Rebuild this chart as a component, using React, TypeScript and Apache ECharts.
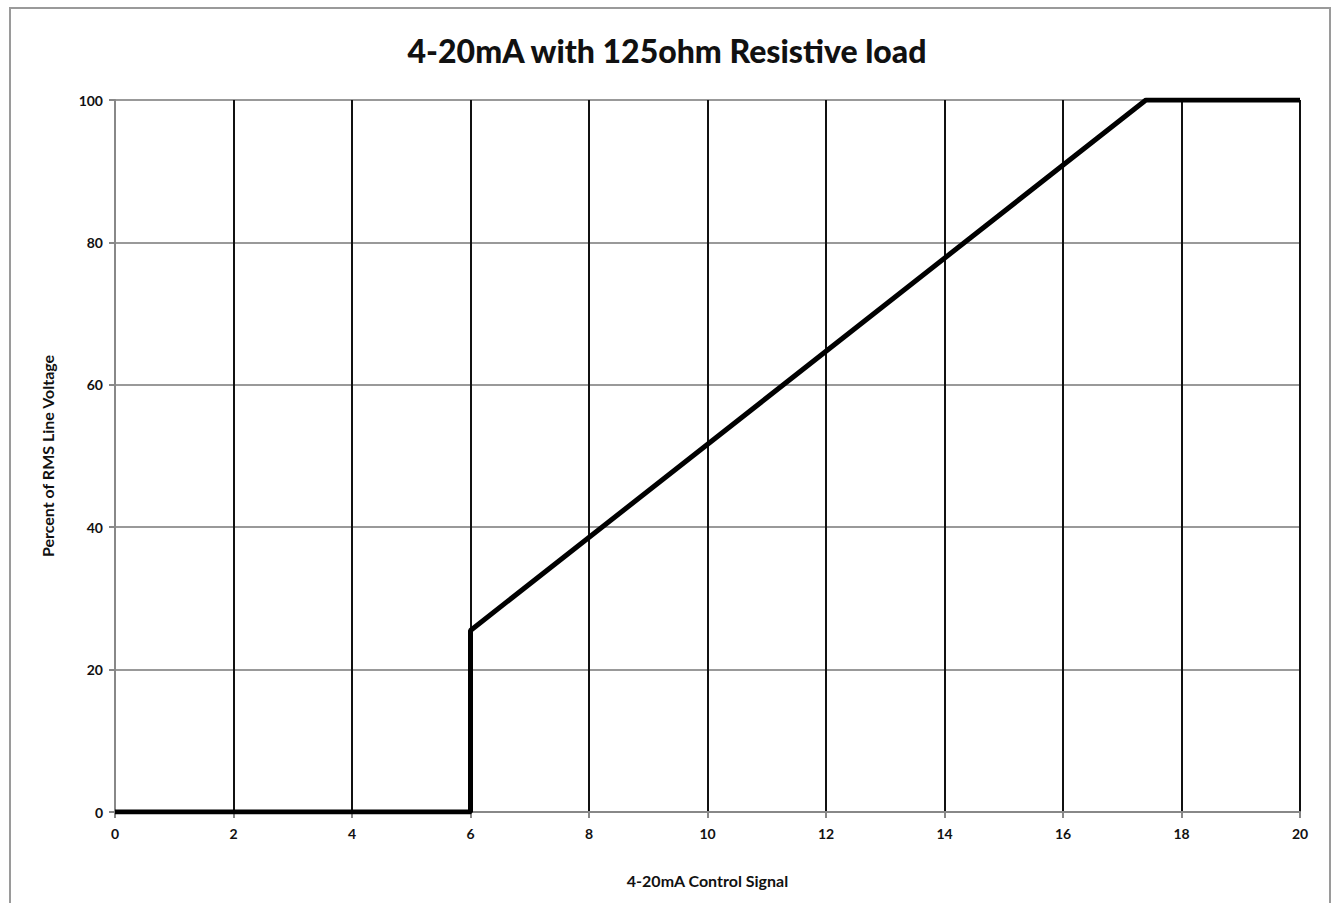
import React, { useEffect, useRef } from "react";
import * as echarts from "echarts";

const signalMA = [0, 6, 6, 17.4, 20];
const percentVoltage = [0, 0, 25.5, 100, 100];
const xTicks = [0, 2, 4, 6, 8, 10, 12, 14, 16, 18, 20];
const yTicks = [0, 20, 40, 60, 80, 100];
const titleText = "4-20mA with 125ohm Resistive load";
const xName = "4-20mA Control Signal";
const yName = "Percent of RMS Line Voltage";

export default function App() {
  const ref = useRef<HTMLDivElement>(null);
  useEffect(() => {
    if (!ref.current) return;
    const chart = echarts.init(ref.current, null, { renderer: "svg" });
    const font = "Lato, 'Open Sans', sans-serif";
    chart.setOption({
      animation: false,
      backgroundColor: "#ffffff",
      title: {
        text: titleText,
        left: "center",
        top: 29,
        textStyle: { fontFamily: font, fontWeight: 900, fontSize: 32, color: "#111" },
      },
      graphic: [
        {
          type: "rect",
          shape: { x: 10, y: 8, width: 1320, height: 905 },
          style: { fill: "none", stroke: "#9a9a9a", lineWidth: 2 },
          silent: true,
          z: -1,
        },
      ],
      grid: { left: 115, right: 34, top: 100, bottom: 91 },
      xAxis: {
        type: "value",
        min: xTicks[0],
        max: xTicks[xTicks.length - 1],
        interval: 2,
        name: xName,
        nameLocation: "middle",
        nameGap: 60,
        nameTextStyle: { fontFamily: font, fontWeight: "bold", fontSize: 16, color: "#111" },
        axisLine: { show: true, lineStyle: { color: "#888", width: 2 } },
        axisTick: { show: true, length: 6, lineStyle: { color: "#888", width: 2 } },
        axisLabel: { fontFamily: font, fontWeight: "bold", fontSize: 14, color: "#111", margin: 14 },
        splitLine: { show: true, lineStyle: { color: "#111", width: 2 } },
      },
      yAxis: {
        type: "value",
        min: yTicks[0],
        max: yTicks[yTicks.length - 1],
        interval: 20,
        name: yName,
        nameLocation: "middle",
        nameGap: 60,
        nameTextStyle: { fontFamily: font, fontWeight: "bold", fontSize: 16, color: "#111" },
        axisLine: { show: true, lineStyle: { color: "#888", width: 2 } },
        axisTick: { show: true, length: 6, lineStyle: { color: "#888", width: 2 } },
        axisLabel: { fontFamily: font, fontWeight: "bold", fontSize: 14, color: "#111", margin: 12 },
        splitLine: { show: true, lineStyle: { color: "#999", width: 2 } },
      },
      series: [
        {
          type: "line",
          data: signalMA.map((x, i) => [x, percentVoltage[i]]),
          showSymbol: false,
          lineStyle: { color: "#000", width: 5 },
          z: 5,
        },
      ],
    });
    return () => chart.dispose();
  }, []);
  return (
    <div
      ref={ref}
      style={{ position: "fixed", left: 0, top: 0, width: 1334, height: 903, background: "#fff" }}
    />
  );
}
